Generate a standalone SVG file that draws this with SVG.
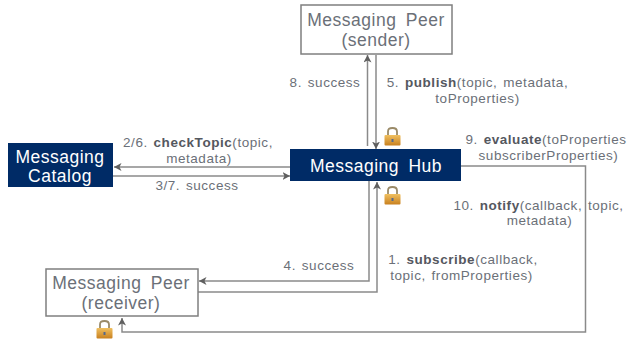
<svg xmlns="http://www.w3.org/2000/svg" width="629" height="341" viewBox="0 0 629 341">
<style>
text{font-family:"Liberation Sans",Arial,sans-serif;font-size:13.5px;letter-spacing:.55px;word-spacing:1.5px;fill:#6b7078;text-anchor:middle}
text.n{font-size:17.5px;letter-spacing:.5px;word-spacing:4px}
text.w{fill:#fff}
tspan.b{font-weight:bold;fill:#55585f}
rect.p{fill:#fff;stroke:#7f7f7f;stroke-width:1.5}
rect.d{fill:#002b66}
.c path{fill:none;stroke:#8a8a8a;stroke-width:1.5}
.c path.a{marker-end:url(#ah)}
.k rect{fill:url(#gold)}
.k path{fill:none;stroke:#9a8a68;stroke-width:1.8}
</style>
<defs>
<linearGradient id="gold" x1="0" y1="0" x2="0" y2="1"><stop offset="0" stop-color="#f0c060"/><stop offset="1" stop-color="#c8801f"/></linearGradient>
<marker id="ah" markerUnits="userSpaceOnUse" markerWidth="9" markerHeight="9" refX="7.500" refY="4" orient="auto"><path d="M0 0L7.500 4L0 8L2 4Z" fill="#5f5f5f"/></marker>
<g id="lock" class="k"><path d="M-4.500 -1V-4.500Q-4.500 -8 0 -8Q4.500 -8 4.500 -4.500V-1"/><rect x="-8" y="-1" width="16" height="10.500" rx="1"/><rect x="-1" y="3" width="2" height="3" style="fill:#56688a"/></g>
</defs>
<g id="connectors" class="c">
<path class="a" d="M367.500 146V55"/>
<path class="a" d="M376 55V149"/>
<path class="a" d="M290 167H114"/>
<path class="a" d="M113 176H290"/>
<path class="a" d="M369 181V281H199"/>
<path class="a" d="M198 292H377V182"/>
<path class="a" d="M461 166H585.500V332H122V318"/>
</g>
<g id="sender"><rect class="p" x="301" y="5" width="151" height="49"/><text class="n" x="376" y="26">Messaging Peer</text><text class="n" x="376" y="46">(sender)</text></g>
<g id="hub"><rect class="d" x="290" y="149" width="171" height="32"/><text class="n w" x="376" y="172">Messaging Hub</text></g>
<g id="catalog"><rect class="d" x="8" y="143" width="105" height="44"/><text class="n w" x="60" y="163">Messaging</text><text class="n w" x="60" y="182">Catalog</text></g>
<g id="receiver"><rect class="p" x="46" y="269" width="152" height="47"/><text class="n" x="121" y="289">Messaging Peer</text><text class="n" x="121" y="309">(receiver)</text></g>
<g id="labels">
<text x="325" y="87">8. success</text>
<text x="477.500" y="87">5. <tspan class="b">publish</tspan>(topic, metadata,</text>
<text x="477.500" y="103">toProperties)</text>
<text x="198" y="147">2/6. <tspan class="b">checkTopic</tspan>(topic,</text>
<text x="199" y="163">metadata)</text>
<text x="197" y="190">3/7. success</text>
<text x="546" y="144">9. <tspan class="b">evaluate</tspan>(toProperties</text>
<text x="548.500" y="160">subscriberProperties)</text>
<text x="538.500" y="210">10. <tspan class="b">notify</tspan>(callback, topic,</text>
<text x="539.500" y="225">metadata)</text>
<text x="319" y="270">4. success</text>
<text x="463" y="264">1. <tspan class="b">subscribe</tspan>(callback,</text>
<text x="461.500" y="280">topic, fromProperties)</text>
</g>
<use href="#lock" x="392.500" y="136"/>
<use href="#lock" x="392.500" y="195"/>
<use href="#lock" x="104.500" y="329"/>
</svg>
